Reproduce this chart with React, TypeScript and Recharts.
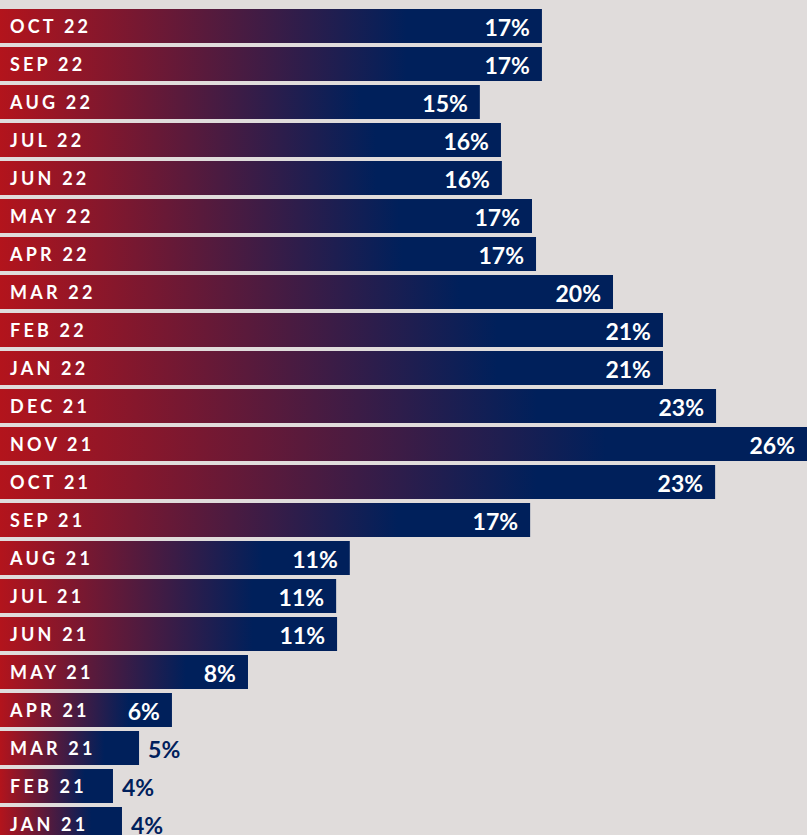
import { BarChart, Bar, XAxis, YAxis, LabelList } from 'recharts';

const months = [
  'OCT 22', 'SEP 22', 'AUG 22', 'JUL 22', 'JUN 22', 'MAY 22', 'APR 22', 'MAR 22',
  'FEB 22', 'JAN 22', 'DEC 21', 'NOV 21', 'OCT 21', 'SEP 21', 'AUG 21', 'JUL 21',
  'JUN 21', 'MAY 21', 'APR 21', 'MAR 21', 'FEB 21', 'JAN 21',
];

const shares = [
  17.46, 17.46, 15.46, 16.14, 16.17, 17.14, 17.27, 19.75,
  21.36, 21.36, 23.07, 26.0, 23.04, 17.08, 11.27, 10.83,
  10.86, 7.99, 5.54, 4.48, 3.64, 3.93,
];

const shareLabels = [
  '17%', '17%', '15%', '16%', '16%', '17%', '17%', '20%',
  '21%', '21%', '23%', '26%', '23%', '17%', '11%', '11%',
  '11%', '8%', '6%', '5%', '4%', '4%',
];

const data = months.map((month, i) => ({ month, share: shares[i], label: shareLabels[i] }));

const NAVY = '#00205b';
const RED = '#b3141c';
const FONT = 'Lato, "Open Sans", sans-serif';

const MonthLabel = (props: any) => {
  const { x, y, height, value } = props;
  return (
    <text
      x={x + 10}
      y={y + height / 2}
      dominantBaseline="central"
      fill="#fff"
      fontFamily={FONT}
      fontWeight={700}
      fontSize={18}
      letterSpacing={3.2}
    >
      {value}
    </text>
  );
};

const ValueLabel = (props: any) => {
  const { x, y, width, height, value } = props;
  const inside = width > 150;
  return (
    <text
      x={inside ? x + width - 12 : x + width + 9}
      y={y + height / 2 + 1}
      dominantBaseline="central"
      textAnchor={inside ? 'end' : 'start'}
      fill={inside ? '#fff' : NAVY}
      fontFamily={FONT}
      fontWeight={700}
      fontSize={23}
    >
      {value}
    </text>
  );
};

export default function App() {
  return (
    <div
      style={{
        position: 'absolute',
        left: 0,
        top: 0,
        width: 807,
        height: 835,
        overflow: 'hidden',
        background: '#e0dcdb',
      }}
    >
      <BarChart
        width={807}
        height={850}
        data={data}
        layout="vertical"
        margin={{ top: 7, right: 0, bottom: 7, left: 0 }}
        barCategoryGap={2}
      >
        <defs>
          <linearGradient id="barGrad" x1="0" y1="0" x2="1" y2="0">
            <stop offset="0%" stopColor={RED} />
            <stop offset="75%" stopColor={NAVY} />
            <stop offset="100%" stopColor={NAVY} />
          </linearGradient>
        </defs>
        <XAxis type="number" domain={[0, 26]} hide />
        <YAxis type="category" dataKey="month" hide />
        <Bar dataKey="share" fill="url(#barGrad)" isAnimationActive={false}>
          <LabelList dataKey="month" content={MonthLabel} />
          <LabelList dataKey="label" content={ValueLabel} />
        </Bar>
      </BarChart>
    </div>
  );
}
